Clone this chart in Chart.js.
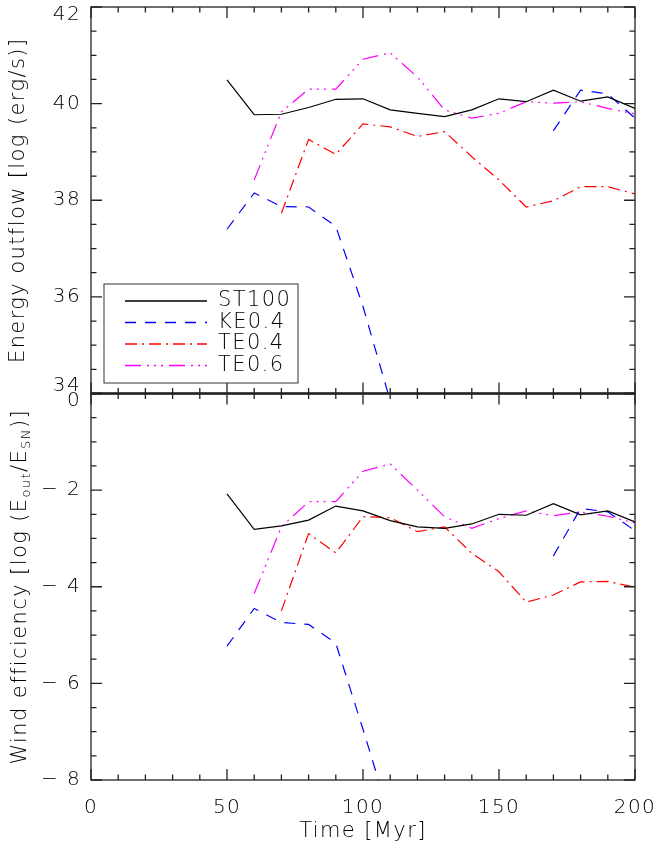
<!DOCTYPE html>
<html>
<head>
<title>Energy outflow and wind efficiency</title>
<script src="https://cdn.jsdelivr.net/npm/chart.js"></script>
<style>
  body { margin: 0; background: #fff; }
</style>
</head>
<body>
<canvas id="chart" width="664" height="848"></canvas>
<script>
// time in Myr
const times = [50, 60, 70, 80, 90, 100, 110, 120, 130, 140, 150, 160, 170, 180, 190, 200];
const seriesNames = ['ST100', 'KE0.4', 'TE0.4', 'TE0.6'];

// energy outflow, log (erg/s)
const energyST100 = [40.49, 39.77, 39.78, 39.92, 40.09, 40.10, 39.87, 39.80, 39.73, 39.87, 40.10, 40.04, 40.28, 40.05, 40.14, 39.90];
const energyKE04  = [37.40, 38.15, 37.87, 37.86, 37.46, 35.80, 33.85, null, null, null, null, null, 39.44, 40.28, 40.20, 39.70];
const energyTE04  = [null, null, 37.73, 39.26, 38.95, 39.58, 39.52, 39.32, 39.42, 38.90, 38.42, 37.86, 37.99, 38.28, 38.28, 38.13];
const energyTE06  = [null, 38.42, 39.83, 40.30, 40.30, 40.92, 41.05, 40.55, 39.87, 39.70, 39.80, 40.04, 40.01, 40.04, 39.90, 39.79];

// wind efficiency, log (E_out/E_SN)
const effST100 = [-2.08, -2.81, -2.74, -2.62, -2.33, -2.43, -2.63, -2.76, -2.79, -2.70, -2.50, -2.52, -2.28, -2.51, -2.43, -2.66];
const effKE04  = [-5.23, -4.45, -4.74, -4.78, -5.17, -6.95, -8.80, null, null, null, null, null, -3.36, -2.38, -2.45, -2.84];
const effTE04  = [null, null, -4.50, -2.90, -3.30, -2.55, -2.57, -2.86, -2.76, -3.31, -3.69, -4.32, -4.17, -3.90, -3.89, -4.01];
const effTE06  = [null, -4.14, -2.76, -2.24, -2.24, -1.61, -1.46, -2.00, -2.55, -2.79, -2.59, -2.43, -2.53, -2.45, -2.54, -2.68];

const xTicks = [0, 50, 100, 150, 200];

const colors = ['#000000', '#0000ff', '#ff0000', '#ff00ff'];
const dashes = [[], [11, 9], [12, 5, 2, 5], [16, 6, 2, 5, 2, 5, 2, 6]];
const FONT = 'DejaVu Sans';
const WEIGHT = 200;

function pts(vals) {
  return times.map((t, i) => ({ x: t, y: vals[i] }));
}

function makeSet(i, vals, axis) {
  return {
    label: seriesNames[i],
    data: pts(vals),
    yAxisID: axis,
    borderColor: colors[i],
    borderDash: dashes[i],
    borderWidth: 1.2,
    pointRadius: 0,
    spanGaps: false,
    tension: 0,
    fill: false
  };
}

const datasets = [
  makeSet(0, energyST100, 'yTop'),
  makeSet(1, energyKE04, 'yTop'),
  makeSet(2, energyTE04, 'yTop'),
  makeSet(3, energyTE06, 'yTop'),
  makeSet(0, effST100, 'yBot'),
  makeSet(1, effKE04, 'yBot'),
  makeSet(2, effTE04, 'yBot'),
  makeSet(3, effTE06, 'yBot')
];

function minusLabel(v) {
  return v < 0 ? '\u2212 ' + (-v) : String(v);
}

// IDL-style box with inward ticks, legend and the subscripted y title
const framePlugin = {
  id: 'frame',
  beforeDraw(chart) {
    // the plot font is wide and loosely spaced
    chart.ctx.letterSpacing = '1.4px';
  },
  afterDatasetsDraw(chart) {
    const ctx = chart.ctx;
    const x = chart.scales.x;
    const panels = [chart.scales.yTop, chart.scales.yBot];
    ctx.save();
    ctx.strokeStyle = '#222';
    ctx.lineWidth = 1.3;
    panels.forEach(p => {
      ctx.strokeRect(x.left, p.top, x.right - x.left, p.bottom - p.top);
      ctx.beginPath();
      for (let v = 0; v <= 200; v += 10) {
        const len = v % 50 === 0 ? 11 : 5.5;
        const px = x.getPixelForValue(v);
        ctx.moveTo(px, p.top); ctx.lineTo(px, p.top + len);
        ctx.moveTo(px, p.bottom); ctx.lineTo(px, p.bottom - len);
      }
      for (let v = p.min; v <= p.max + 1e-6; v += 0.5) {
        const len = Math.abs(v % 2) < 1e-6 ? 11 : 5.5;
        const py = p.getPixelForValue(v);
        ctx.moveTo(x.left, py); ctx.lineTo(x.left + len, py);
        ctx.moveTo(x.right, py); ctx.lineTo(x.right - len, py);
      }
      ctx.stroke();
    });
    // heavier line between the two panels
    ctx.lineWidth = 2.5;
    ctx.beginPath();
    ctx.moveTo(x.left, panels[0].bottom);
    ctx.lineTo(x.right, panels[0].bottom);
    ctx.stroke();

    // legend inside the top panel
    const a = chart.chartArea;
    const bx = a.left + 13, by = 284, bw = 194, bh = 99;
    ctx.fillStyle = '#fff';
    ctx.fillRect(bx, by, bw, bh);
    ctx.lineWidth = 1;
    ctx.strokeStyle = '#333';
    ctx.strokeRect(bx, by, bw, bh);
    ctx.font = WEIGHT + ' 21px "' + FONT + '"';
    ctx.textBaseline = 'middle';
    ctx.textAlign = 'left';
    for (let i = 0; i < 4; i++) {
      const ly = by + 17 + i * 21.5;
      ctx.beginPath();
      ctx.setLineDash(dashes[i]);
      ctx.strokeStyle = colors[i];
      ctx.lineWidth = 1.5;
      ctx.moveTo(bx + 21, ly);
      ctx.lineTo(bx + 103, ly);
      ctx.stroke();
      ctx.setLineDash([]);
      ctx.fillStyle = '#000';
      ctx.fillText(seriesNames[i], bx + 114, ly);
    }

    // bottom y title with subscripts
    const p = panels[1];
    const parts = [
      ['Wind efficiency [log (E', 0],
      ['out', 1],
      ['/E', 0],
      ['SN', 1],
      [')]', 0]
    ];
    const big = WEIGHT + ' 21px "' + FONT + '"', small = WEIGHT + ' 13px "' + FONT + '"';
    let total = 0;
    parts.forEach(pt => { ctx.font = pt[1] ? small : big; total += ctx.measureText(pt[0]).width; });
    ctx.translate(19, (p.top + p.bottom) / 2);
    ctx.rotate(-Math.PI / 2);
    ctx.fillStyle = '#000';
    ctx.textBaseline = 'alphabetic';
    let cx = -total / 2;
    parts.forEach(pt => {
      ctx.font = pt[1] ? small : big;
      ctx.fillText(pt[0], cx, pt[1] ? 11 : 7);
      cx += ctx.measureText(pt[0]).width;
    });
    ctx.restore();
  }
};

const tickFont = { family: FONT, size: 20, weight: WEIGHT, lineHeight: 0.75 };
const titleFont = { family: FONT, size: 21, weight: WEIGHT };

function fitY(s) {
  s.width = 91;
  s.paddingTop = 0;
  s.paddingBottom = 0;
}

new Chart(document.getElementById('chart').getContext('2d'), {
  type: 'line',
  data: { datasets: datasets },
  options: {
    responsive: false,
    animation: false,
    layout: { padding: { top: 7, right: 29, left: 0, bottom: 0 } },
    plugins: { legend: { display: false }, tooltip: { enabled: false } },
    scales: {
      x: {
        type: 'linear', min: 0, max: 200,
        afterBuildTicks: s => { s.ticks = xTicks.map(v => ({ value: v })); },
        ticks: { color: '#000', font: { family: FONT, size: 20, weight: WEIGHT }, padding: 16, maxRotation: 0 },
        grid: { display: false, drawTicks: false },
        border: { display: false },
        title: { display: true, text: 'Time [Myr]', color: '#000', font: titleFont, padding: { top: 0, bottom: 4 } },
        afterFit: s => { s.height = 68; s.paddingLeft = 0; s.paddingRight = 0; }
      },
      yBot: {
        type: 'linear', position: 'left', stack: 'panels', stackWeight: 1,
        min: -8, max: 0,
        ticks: {
          stepSize: 2, color: '#000', font: tickFont, padding: 10,
          callback: v => v === 0 ? ['', '0'] : minusLabel(v)
        },
        grid: { display: false, drawTicks: false },
        border: { display: false },
        title: { display: false },
        afterFit: fitY
      },
      yTop: {
        type: 'linear', position: 'left', stack: 'panels', stackWeight: 1,
        min: 34, max: 42,
        ticks: {
          stepSize: 2, color: '#000', font: tickFont, padding: 10,
          callback: v => v === 34 ? ['34', ''] : v === 42 ? ['', '42'] : String(v)
        },
        grid: { display: false, drawTicks: false },
        border: { display: false },
        title: { display: true, text: 'Energy outflow [log (erg/s)]', color: '#000', font: titleFont, padding: { top: 6, bottom: 0 } },
        afterFit: fitY
      }
    }
  },
  plugins: [framePlugin]
});
</script>
</body>
</html>
